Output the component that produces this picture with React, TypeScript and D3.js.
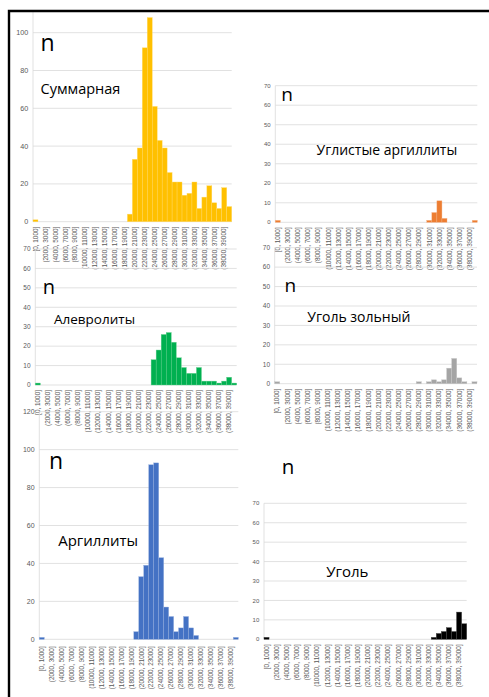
import React from "react";
import * as d3 from "d3";

// Bin labels (bin width 1000, 40 bins)
const binLabels = [
  "[0, 1000]", "(1000, 2000]", "(2000, 3000]", "(3000, 4000]", "(4000, 5000]",
  "(5000, 6000]", "(6000, 7000]", "(7000, 8000]", "(8000, 9000]", "(9000, 10000]",
  "(10000, 11000]", "(11000, 12000]", "(12000, 13000]", "(13000, 14000]", "(14000, 15000]",
  "(15000, 16000]", "(16000, 17000]", "(17000, 18000]", "(18000, 19000]", "(19000, 20000]",
  "(20000, 21000]", "(21000, 22000]", "(22000, 23000]", "(23000, 24000]", "(24000, 25000]",
  "(25000, 26000]", "(26000, 27000]", "(27000, 28000]", "(28000, 29000]", "(29000, 30000]",
  "(30000, 31000]", "(31000, 32000]", "(32000, 33000]", "(33000, 34000]", "(34000, 35000]",
  "(35000, 36000]", "(36000, 37000]", "(37000, 38000]", "(38000, 39000]", "(39000, 40000]",
];

// Counts per bin
const totalCounts = [
  1, 0, 0, 0, 0, 0, 0, 0, 0, 0,
  0, 0, 0, 0, 0, 0, 0, 0, 0, 4,
  33, 39, 92, 108, 61, 43, 39, 26, 21, 21,
  14, 15, 21, 7, 13, 19, 10, 7, 18, 8,
];
const coalyMudstoneCounts = [
  1, 0, 0, 0, 0, 0, 0, 0, 0, 0,
  0, 0, 0, 0, 0, 0, 0, 0, 0, 0,
  0, 0, 0, 0, 0, 0, 0, 0, 0, 0,
  1, 5, 11, 2, 0, 0, 0, 0, 0, 1,
];
const siltstoneCounts = [
  1, 0, 0, 0, 0, 0, 0, 0, 0, 0,
  0, 0, 0, 0, 0, 0, 0, 0, 0, 0,
  0, 0, 0, 13, 18, 26, 27, 22, 14, 9,
  6, 6, 9, 2, 2, 2, 1, 2, 4, 1,
];
const ashCoalCounts = [
  1, 0, 0, 0, 0, 0, 0, 0, 0, 0,
  0, 0, 0, 0, 0, 0, 0, 0, 0, 0,
  0, 0, 0, 0, 0, 0, 0, 0, 1, 0,
  1, 2, 1, 2, 8, 13, 3, 1, 0, 1,
];
const mudstoneCounts = [
  1, 0, 0, 0, 0, 0, 0, 0, 0, 0,
  0, 0, 0, 0, 0, 0, 0, 0, 0, 4,
  33, 39, 92, 93, 43, 17, 12, 4, 6, 12,
  6, 2, 0, 0, 0, 0, 0, 0, 0, 1,
];
const coalCounts = [
  1, 0, 0, 0, 0, 0, 0, 0, 0, 0,
  0, 0, 0, 0, 0, 0, 0, 0, 0, 0,
  0, 0, 0, 0, 0, 0, 0, 0, 0, 0,
  0, 0, 0, 1, 3, 4, 6, 4, 14, 8,
];

const panelTitles = ["Суммарная", "Углистые аргиллиты", "Алевролиты", "Уголь зольный", "Аргиллиты", "Уголь"];
const axisMax = [100, 70, 70, 70, 120, 70];
const axisStep = [20, 10, 10, 10, 20, 10];

type Layout = {
  x0: number; x1: number; yBase: number; yTop: number; lineTop: number;
  tickFont: number; labelGap: number;
  color: string; edge: string;
  nX: number; nY: number; nSize: number;
  tX: number; tY: number; tSize: number;
};

const layouts: Layout[] = [
  { x0: 33, x1: 231.7, yBase: 221.7, yTop: 32.7, lineTop: 12, tickFont: 7.2, labelGap: 5,
    color: "#FFC000", edge: "#FFD966", nX: 40.5, nY: 50.7, nSize: 23, tX: 40.5, tY: 94.3, tSize: 14.5 },
  { x0: 275.3, x1: 477.3, yBase: 222.3, yTop: 85.7, lineTop: 85.7, tickFont: 6, labelGap: 5,
    color: "#ED7D31", edge: "#F4B183", nX: 281.2, nY: 100.7, nSize: 19, tX: 316.5, tY: 155, tSize: 14 },
  { x0: 35.3, x1: 236.7, yBase: 385, yTop: 249, lineTop: 249, tickFont: 6.5, labelGap: 5,
    color: "#00B050", edge: "#66D08F", nX: 42.8, nY: 294, nSize: 20, tX: 54, tY: 323.7, tSize: 13.5 },
  { x0: 274.7, x1: 477, yBase: 383.7, yTop: 247.7, lineTop: 247.7, tickFont: 6.5, labelGap: 5,
    color: "#A5A5A5", edge: "#C9C9C9", nX: 284.5, nY: 291.7, nSize: 19, tX: 307.3, tY: 322.3, tSize: 14 },
  { x0: 39.3, x1: 238.3, yBase: 639.3, yTop: 411.7, lineTop: 411.7, tickFont: 7, labelGap: 7,
    color: "#4472C4", edge: "#8FAADC", nX: 49, nY: 469, nSize: 23, tX: 58.2, tY: 545.7, tSize: 15 },
  { x0: 264, x1: 466.7, yBase: 639.3, yTop: 503.3, lineTop: 503.3, tickFont: 6, labelGap: 5,
    color: "#000000", edge: "#404040", nX: 281.8, nY: 474.3, nSize: 20.5, tX: 326.2, tY: 576.7, tSize: 15 },
];

const seriesList = [totalCounts, coalyMudstoneCounts, siltstoneCounts, ashCoalCounts, mudstoneCounts, coalCounts];

const FONT_AXIS = "'Liberation Sans', Arial, sans-serif";
const FONT_TEXT = "'Open Sans', 'Noto Sans', sans-serif";

function Panel({ idx }: { idx: number }) {
  const L = layouts[idx];
  const values = seriesList[idx];
  const x = d3.scaleBand<number>().domain(d3.range(values.length)).range([L.x0, L.x1]).padding(0);
  const y = d3.scaleLinear().domain([0, axisMax[idx]]).range([L.yBase, L.yTop]);
  const ticks = d3.range(0, axisMax[idx] + 1, axisStep[idx]);
  const bw = x.bandwidth();
  return (
    <g>
      {ticks.map((t) => (
        <g key={t}>
          <line x1={L.x0} x2={L.x1} y1={y(t)} y2={y(t)} stroke="#d9d9d9" strokeWidth={0.8} />
          <text x={L.x0 - 4.7} y={y(t)} dy="0.35em" textAnchor="end" fontFamily={FONT_AXIS}
            fontSize={L.tickFont} fill="#595959">{t}</text>
        </g>
      ))}
      <line x1={L.x0} x2={L.x0} y1={L.lineTop} y2={L.yBase} stroke="#d9d9d9" strokeWidth={0.8} />
      {values.map((v, i) =>
        v > 0 ? (
          <rect key={i} x={x(i)} y={y(v)} width={bw} height={L.yBase - y(v)}
            fill={L.color} stroke={L.edge} strokeWidth={0.4} />
        ) : null
      )}
      {binLabels.map((lab, i) =>
        i % 2 === 0 ? (
          <text key={lab} transform={`translate(${(x(i) as number) + bw / 2},${L.yBase + L.labelGap}) rotate(-90)`}
            dy="0.35em" textAnchor="end" fontFamily={FONT_AXIS} fontSize={6.4} fill="#595959">{lab}</text>
        ) : null
      )}
      <text x={L.nX} y={L.nY} fontFamily={FONT_TEXT} fontSize={L.nSize} fill="#000">n</text>
      <text x={L.tX} y={L.tY} fontFamily={FONT_TEXT} fontSize={L.tSize} fill="#000">{panelTitles[idx]}</text>
    </g>
  );
}

export default function App() {
  return (
    <svg width={489} height={697} viewBox="0 0 489 697"
      style={{ position: "absolute", left: 0, top: 0, background: "#fff", display: "block" }}>
      <rect x={0} y={0} width={489} height={697} fill="#fff" />
      {layouts.map((_, i) => <Panel key={i} idx={i} />)}
      <path d="M9,697 V11 H489" fill="none" stroke="#000" strokeWidth={2.4} />
    </svg>
  );
}
